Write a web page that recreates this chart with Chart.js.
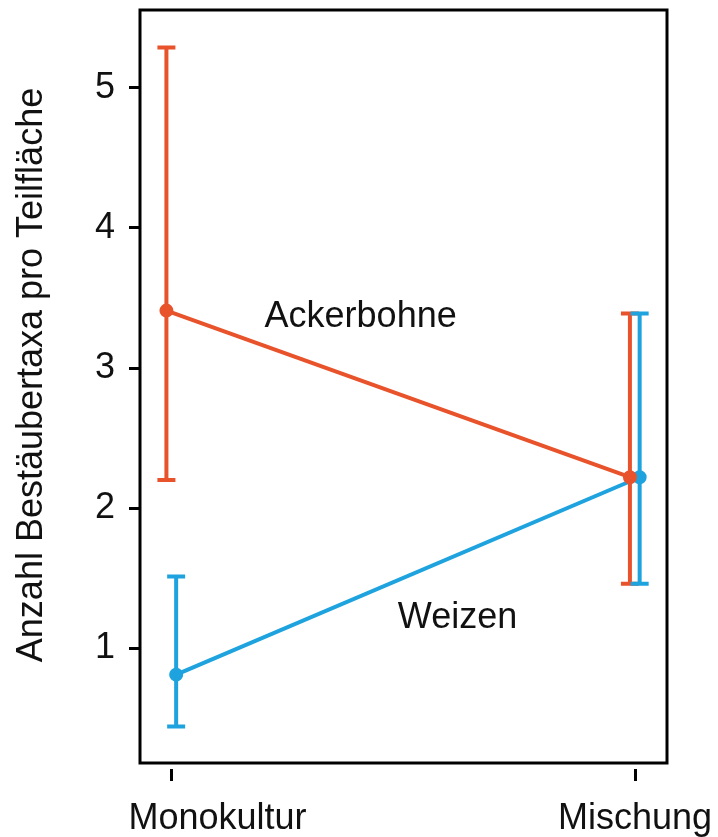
<!DOCTYPE html>
<html>
<head>
<meta charset="utf-8">
<script src="https://cdn.jsdelivr.net/npm/chart.js@4.4.1/dist/chart.umd.min.js"></script>
<style>
  body { margin: 0; background: #fff; }
  #chart { display: block; }
</style>
</head>
<body>
<canvas id="chart" width="718" height="837"></canvas>
<script>
// Daten
const categories = ['Monokultur', 'Mischung'];
const ackerbohneMean = [3.41, 2.22];
const ackerbohneLow = [2.20, 1.46];
const ackerbohneHigh = [5.29, 3.39];
const weizenMean = [0.81, 2.22];
const weizenLow = [0.44, 1.46];
const weizenHigh = [1.51, 3.39];
const yTicks = [1, 2, 3, 4, 5];

const orange = '#e8532c';
const blue = '#1ea3df';
const font = 'Liberation Sans, Arial, sans-serif';
// kleine Verschiebung, damit sich die Fehlerbalken nicht überdecken
const dodge = [-0.011, 0.010];

function points(means, k) {
  return means.map((m, i) => ({ x: i + 1 + dodge[k], y: m }));
}

const errors = [
  { low: ackerbohneLow, high: ackerbohneHigh, color: orange },
  { low: weizenLow, high: weizenHigh, color: blue }
];

// Rahmen, Fehlerbalken, Beschriftungen
const extras = {
  id: 'extras',
  beforeDatasetsDraw(chart) {
    const { ctx, scales: { x, y } } = chart;
    ctx.save();
    ctx.lineWidth = 4;
    errors.forEach((e, k) => {
      ctx.strokeStyle = e.color;
      categories.forEach((c, i) => {
        const px = x.getPixelForValue(i + 1 + dodge[k]);
        const lo = y.getPixelForValue(e.low[i]);
        const hi = y.getPixelForValue(e.high[i]);
        ctx.beginPath();
        ctx.moveTo(px, lo); ctx.lineTo(px, hi);
        ctx.moveTo(px - 9, lo); ctx.lineTo(px + 9, lo);
        ctx.moveTo(px - 9, hi); ctx.lineTo(px + 9, hi);
        ctx.stroke();
      });
    });
    ctx.restore();
  },
  afterDraw(chart) {
    const { ctx, chartArea: a, scales: { x, y } } = chart;
    ctx.save();
    ctx.strokeStyle = '#000';
    ctx.lineWidth = 3;
    ctx.strokeRect(a.left, a.top, a.right - a.left, a.bottom - 6 - a.top);

    ctx.fillStyle = '#111';
    ctx.font = '36px ' + font;
    ctx.textAlign = 'center';
    ctx.textBaseline = 'alphabetic';
    ctx.fillText('Ackerbohne', x.getPixelForValue(1.408), y.getPixelForValue(3.29));
    ctx.fillText('Weizen', x.getPixelForValue(1.617), y.getPixelForValue(1.143));

    // Achsenbeschriftung unten
    const shift = [46, 0];
    categories.forEach((c, i) => {
      ctx.fillText(c, x.getPixelForValue(i + 1) + shift[i], 829);
    });

    // Titel der y-Achse
    ctx.translate(42, 375);
    ctx.rotate(-Math.PI / 2);
    ctx.fillText('Anzahl Bestäubertaxa pro Teilfläche', 0, 0);
    ctx.restore();
  }
};

const ctx = document.getElementById('chart').getContext('2d');

const chart = new Chart(ctx, {
  type: 'line',
  data: {
    datasets: [{
      label: 'Ackerbohne',
      data: points(ackerbohneMean, 0),
      borderColor: orange,
      backgroundColor: orange,
      borderWidth: 4,
      pointRadius: 5,
      pointHoverRadius: 5
    }, {
      label: 'Weizen',
      data: points(weizenMean, 1),
      borderColor: blue,
      backgroundColor: blue,
      borderWidth: 4,
      pointRadius: 5,
      pointHoverRadius: 5
    }]
  },
  options: {
    responsive: false,
    animation: false,
    devicePixelRatio: 1,
    layout: { padding: { top: 10, right: 51, bottom: 0, left: 0 } },
    plugins: {
      legend: { display: false },
      tooltip: { enabled: false }
    },
    scales: {
      x: {
        type: 'linear',
        min: 0.932,
        max: 2.069,
        afterBuildTicks: s => { s.ticks = categories.map((c, i) => ({ value: i + 1 })); },
        afterFit: s => { s.height = 68; s.paddingLeft = 0; s.paddingRight = 0; },
        ticks: { display: false },
        border: { display: false },
        grid: { drawOnChartArea: false, tickLength: 12, tickWidth: 3, tickColor: '#000' }
      },
      y: {
        min: 0.136,
        max: 5.557,
        afterBuildTicks: s => { s.ticks = yTicks.map(v => ({ value: v })); },
        afterFit: s => { s.width = 140; s.paddingTop = 0; s.paddingBottom = 0; },
        border: { display: false },
        grid: { drawOnChartArea: false, tickLength: 11, tickWidth: 3, tickColor: '#000' },
        ticks: { color: '#111', padding: 14, font: { family: font, size: 36 } }
      }
    }
  },
  plugins: [extras]
});
</script>
</body>
</html>
